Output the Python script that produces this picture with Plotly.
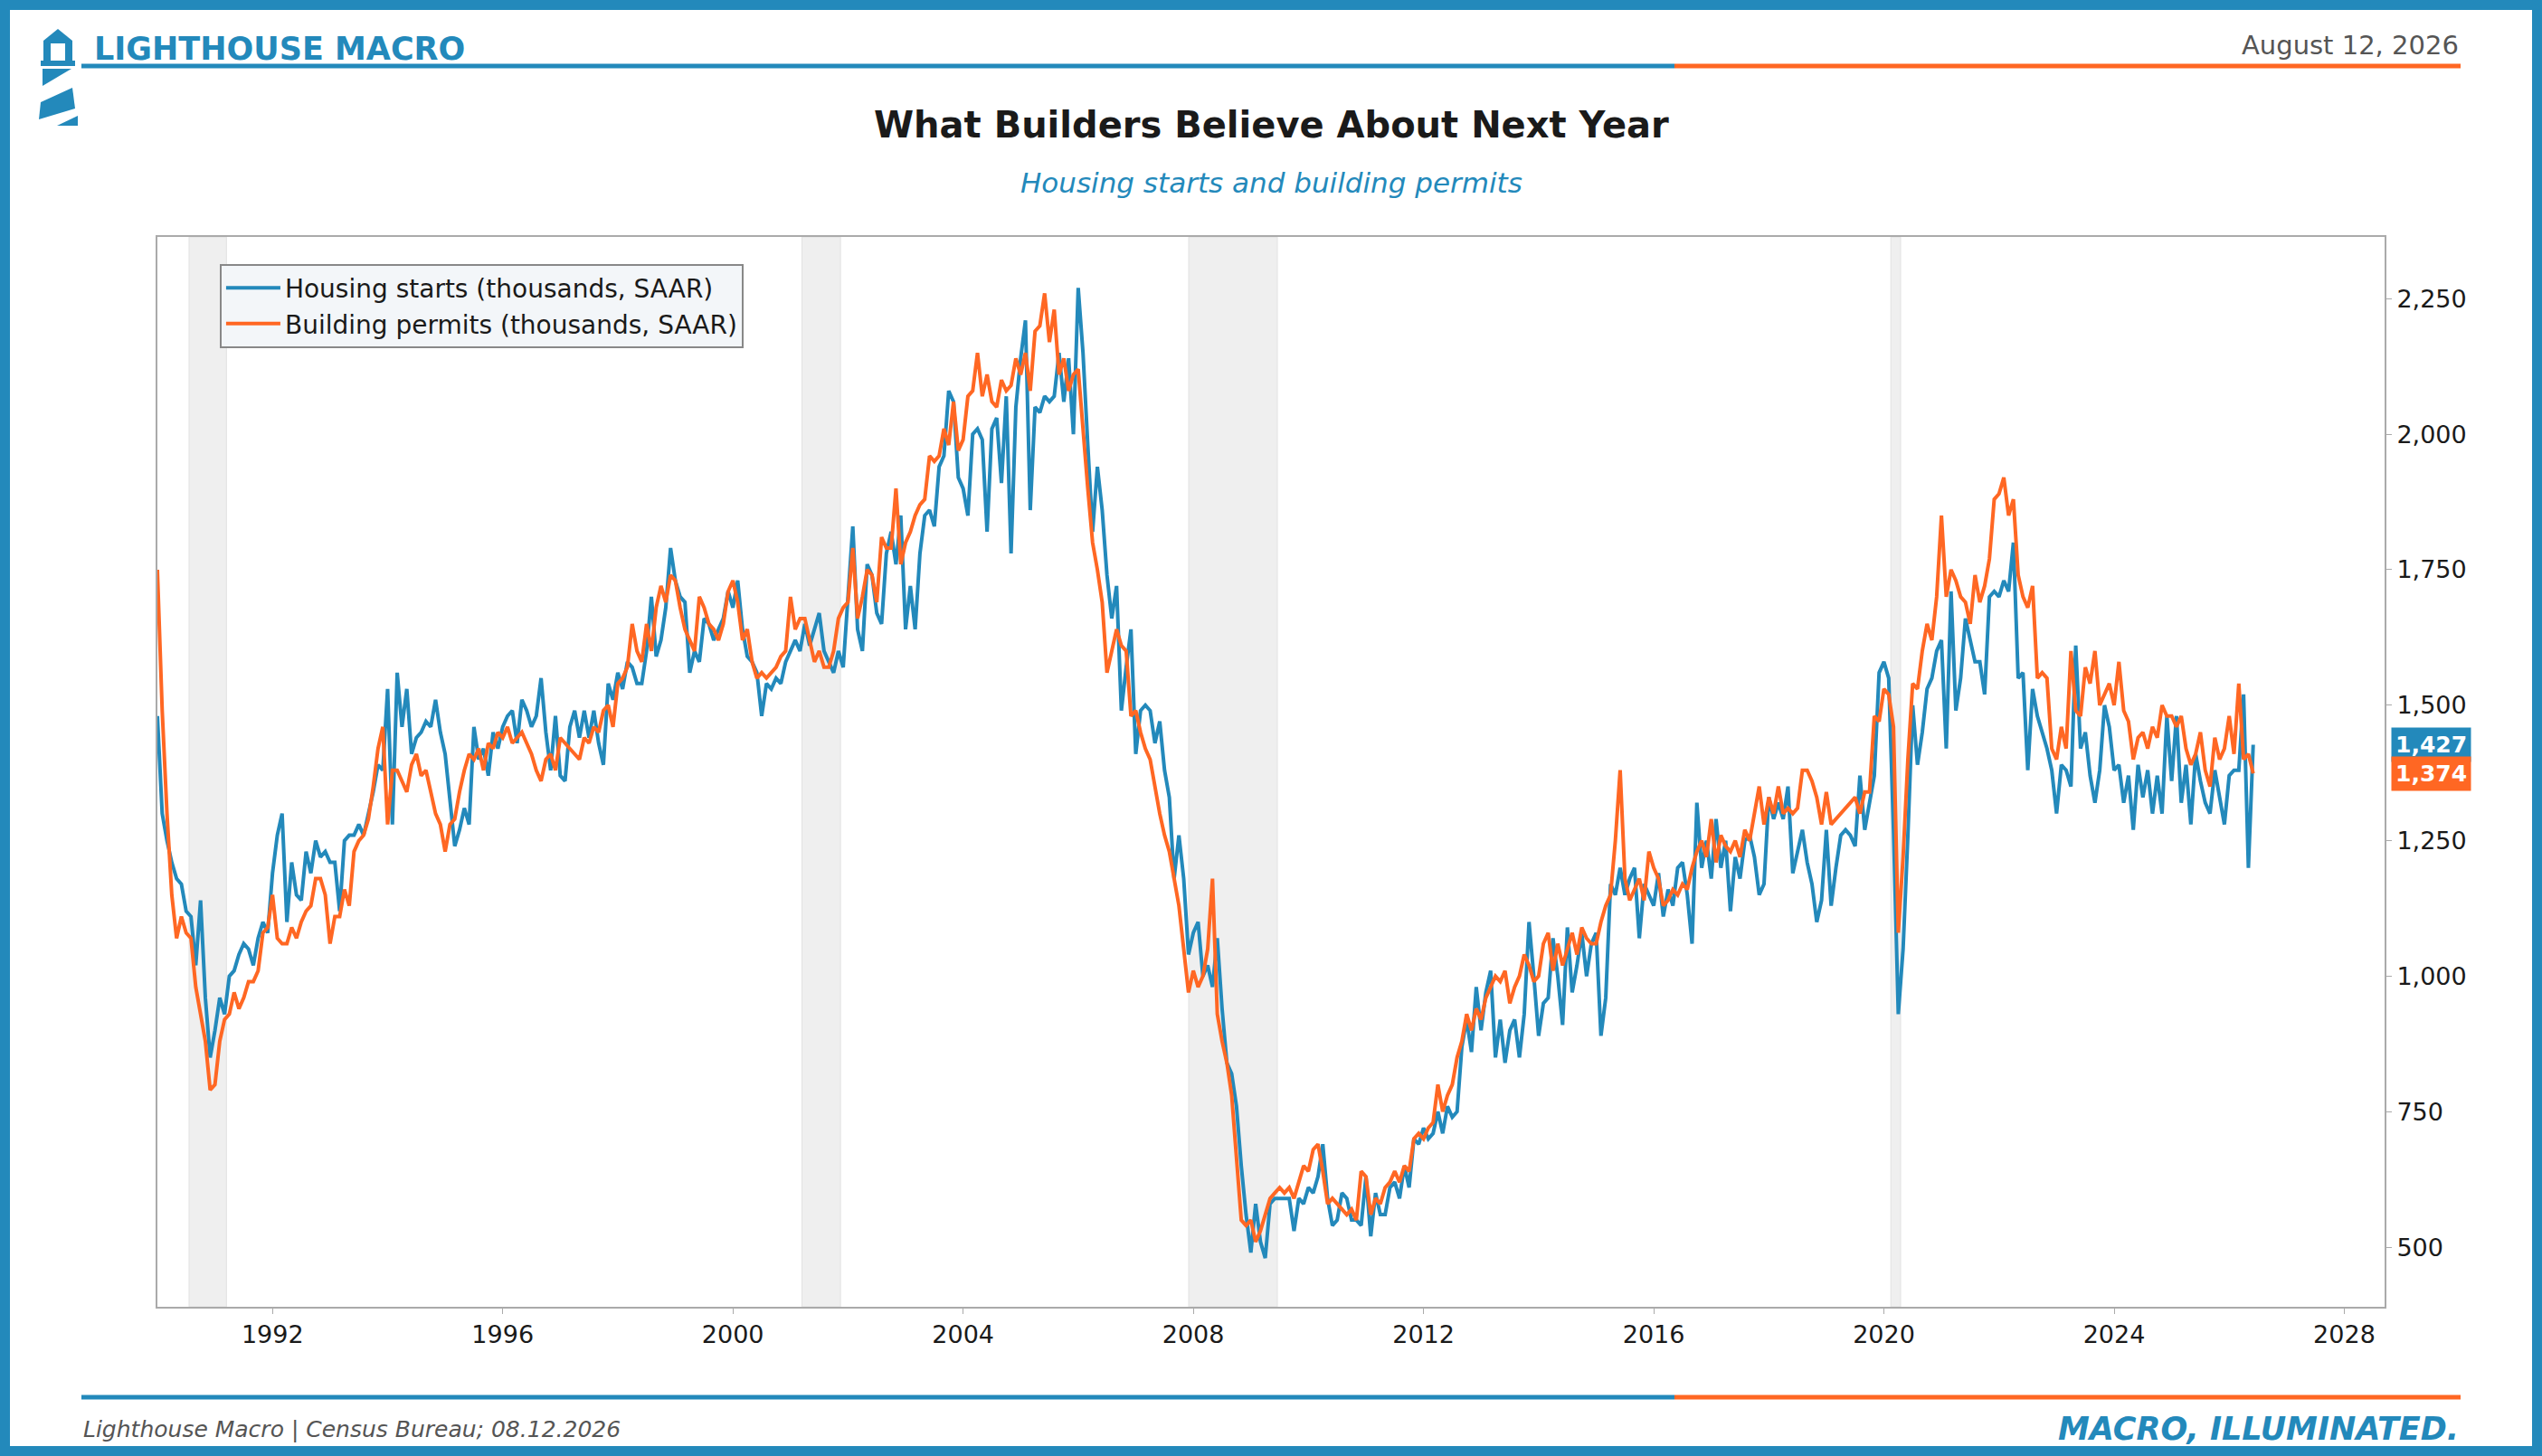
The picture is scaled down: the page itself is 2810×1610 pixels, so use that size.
import plotly.graph_objects as go

# monthly values, thousands SAAR, Jan 1990 onward
starts = [
    1480,1300,1250,1210,1180,1170,1120,1110,1020,1140,960,850,
    900,960,930,1000,1010,1040,1060,1050,1020,1070,1100,1080,
    1190,1260,1300,1100,1210,1150,1140,1230,1190,1250,1220,1230,
    1210,1210,1120,1250,1260,1260,1280,1260,1300,1340,1390,1380,
    1530,1280,1560,1460,1530,1410,1440,1450,1470,1460,1510,1450,
    1410,1330,1240,1270,1310,1280,1460,1400,1420,1370,1450,1420,
    1460,1480,1490,1430,1510,1490,1460,1480,1550,1450,1380,1480,
    1370,1360,1460,1490,1440,1490,1440,1490,1430,1390,1540,1510,
    1560,1530,1580,1570,1540,1540,1600,1700,1590,1620,1680,1790,
    1730,1700,1690,1560,1600,1580,1660,1650,1620,1640,1660,1710,
    1680,1730,1640,1590,1580,1560,1480,1540,1530,1550,1540,1580,
    1600,1620,1600,1650,1610,1640,1670,1600,1580,1560,1600,1570,
    1700,1830,1640,1600,1760,1740,1670,1650,1780,1820,1760,1850,
    1640,1720,1640,1780,1850,1860,1830,1940,1960,2080,2060,1920,
    1900,1850,2000,2010,1990,1820,2010,2030,1910,2070,1780,2050,
    2140,2210,1860,2050,2040,2070,2060,2070,2150,2060,2140,2000,
    2270,2150,1980,1820,1940,1860,1740,1660,1720,1490,1570,1640,
    1410,1490,1500,1490,1430,1470,1380,1330,1180,1260,1180,1040,
    1080,1100,1000,1020,980,1070,940,840,820,760,650,560,
    490,580,510,480,580,590,590,590,590,530,590,580,
    610,600,630,690,590,540,550,600,590,550,550,540,
    630,520,600,560,560,610,620,590,650,610,700,690,
    720,700,710,750,710,760,740,750,870,920,860,980,
    900,970,1010,850,920,840,900,920,850,930,1100,1000,
    890,950,960,1070,1000,910,1090,970,1020,1080,1000,1060,
    1080,890,960,1170,1150,1200,1150,1180,1200,1070,1170,1150,
    1130,1190,1110,1160,1130,1200,1210,1150,1060,1320,1200,1250,
    1180,1290,1200,1250,1120,1220,1180,1250,1260,1220,1150,1170,
    1330,1290,1320,1290,1350,1190,1230,1270,1210,1170,1100,1140,
    1270,1130,1200,1260,1270,1260,1240,1370,1270,1320,1370,1560,
    1580,1550,1270,930,1050,1260,1500,1390,1450,1530,1550,1600,
    1620,1420,1710,1490,1550,1660,1620,1580,1580,1520,1700,1710,
    1700,1730,1710,1800,1550,1560,1380,1530,1480,1450,1420,1380,
    1300,1390,1380,1350,1610,1420,1450,1370,1320,1380,1500,1460,
    1380,1390,1320,1370,1270,1390,1330,1380,1300,1370,1300,1480,
    1360,1480,1320,1390,1280,1410,1360,1320,1300,1380,1330,1280,
    1370,1380,1380,1520,1200,1427,
]
permits = [
    1750,1490,1300,1150,1070,1110,1080,1070,980,930,880,790,
    800,880,920,930,970,940,960,990,990,1010,1080,1090,
    1150,1070,1060,1060,1090,1070,1100,1120,1130,1180,1180,1150,
    1060,1110,1110,1160,1130,1230,1250,1260,1290,1350,1420,1460,
    1280,1380,1380,1360,1340,1390,1410,1370,1380,1340,1300,1280,
    1230,1280,1290,1340,1380,1410,1400,1420,1380,1430,1420,1450,
    1440,1460,1430,1440,1450,1430,1410,1380,1360,1400,1410,1380,
    1440,1430,1420,1410,1400,1440,1430,1460,1450,1490,1500,1460,
    1540,1550,1570,1650,1600,1580,1650,1600,1680,1720,1690,1740,
    1730,1680,1640,1620,1600,1700,1680,1650,1640,1620,1650,1710,
    1730,1690,1620,1640,1580,1550,1560,1550,1560,1570,1590,1600,
    1700,1640,1660,1660,1620,1580,1600,1570,1570,1600,1660,1680,
    1690,1790,1660,1700,1750,1740,1690,1810,1790,1790,1900,1760,
    1800,1820,1850,1870,1880,1960,1950,1960,2010,1980,2060,1970,
    1990,2070,2080,2150,2070,2110,2060,2050,2100,2080,2090,2140,
    2110,2150,2080,2190,2200,2260,2170,2230,2110,2140,2080,2110,
    2120,2000,1900,1800,1750,1690,1560,1600,1640,1610,1600,1480,
    1490,1450,1420,1400,1350,1300,1260,1230,1180,1130,1050,970,
    1010,980,1000,1050,1180,930,880,840,780,660,550,540,
    550,510,530,560,590,600,610,600,610,590,620,650,
    640,680,690,640,580,590,580,570,560,570,550,640,
    630,560,590,580,610,620,640,620,650,640,700,710,
    700,720,730,800,750,780,800,850,880,930,900,940,
    920,960,980,1000,990,1010,950,980,1000,1040,1020,990,
    1000,1060,1080,1010,1060,1020,1050,1080,1040,1090,1070,1060,
    1060,1100,1130,1150,1250,1380,1180,1140,1160,1180,1140,1230,
    1200,1180,1130,1140,1160,1150,1170,1160,1200,1230,1250,1220,
    1290,1210,1260,1240,1230,1250,1220,1270,1250,1300,1350,1280,
    1330,1300,1350,1300,1310,1300,1310,1380,1380,1360,1330,1280,
    1340,1280,1290,1300,1310,1320,1330,1300,1340,1340,1480,1470,
    1530,1520,1460,1080,1220,1400,1540,1530,1600,1650,1620,1700,
    1850,1700,1750,1730,1700,1690,1650,1740,1690,1720,1770,1880,
    1890,1920,1850,1880,1740,1700,1680,1720,1550,1560,1550,1420,
    1400,1460,1420,1600,1490,1480,1570,1540,1600,1500,1520,1540,
    1500,1580,1490,1470,1400,1440,1450,1420,1460,1440,1500,1480,
    1480,1460,1480,1420,1390,1410,1450,1380,1350,1440,1400,1420,
    1480,1410,1540,1400,1410,1374,
]
recessions = [(1990.55, 1991.2), (2001.2, 2001.87), (2007.92, 2009.46), (2020.12, 2020.29)]
year_ticks = list(range(1992, 2029, 4))

BLUE = "#2389BB"
ORANGE = "#FF6723"
W, H = 2810, 1610
ML, MR, MT, MB = 174, 174, 262, 165
PW, PH = W - ML - MR, H - MT - MB

def px(x):
    return (x - ML) / PW

def py(y):
    return 1 - (y - MT) / PH

t = [1990 + i / 12 for i in range(len(starts))]

fig = go.Figure()
fig.add_trace(go.Scatter(x=t, y=starts, mode="lines", name="Housing starts (thousands, SAAR)",
                         line=dict(color=BLUE, width=4)))
fig.add_trace(go.Scatter(x=t, y=permits, mode="lines", name="Building permits (thousands, SAAR)",
                         line=dict(color=ORANGE, width=4)))

shapes = []
for a, b in recessions:
    shapes.append(dict(type="rect", xref="x", yref="paper", x0=a, x1=b, y0=0, y1=1,
                       fillcolor="#efefef", line=dict(color="#e2e2e2", width=1), layer="below"))

# outer border
shapes.append(dict(type="rect", xref="paper", yref="paper", x0=px(0), x1=px(W), y0=py(H), y1=py(0),
                   line=dict(color=BLUE, width=22)))
# header / footer rules
for yy in (73, 1545):
    shapes.append(dict(type="line", xref="paper", yref="paper", x0=px(90), x1=px(1851), y0=py(yy), y1=py(yy),
                       line=dict(color=BLUE, width=5)))
    shapes.append(dict(type="line", xref="paper", yref="paper", x0=px(1851), x1=px(2720), y0=py(yy), y1=py(yy),
                       line=dict(color=ORANGE, width=5)))

# lighthouse icon
def poly(pts):
    d = "M " + " L ".join(f"{px(a)},{py(b)}" for a, b in pts) + " Z"
    return dict(type="path", xref="paper", yref="paper", path=d, fillcolor=BLUE, line=dict(width=0))

shapes += [
    poly([(48, 45), (64, 32), (80, 45)]),
    poly([(48, 45), (80, 45), (80, 48), (48, 48)]),
    poly([(48, 48), (56, 48), (56, 67), (48, 67)]),
    poly([(72, 48), (80, 48), (80, 67), (72, 67)]),
    poly([(45, 67), (83, 67), (83, 73), (45, 73)]),
    poly([(47, 76), (79, 76), (47, 95)]),
    poly([(80, 97), (83, 120), (43, 132), (45, 113)]),
    poly([(86, 128), (86, 139), (63, 139)]),
]

ann = [
    dict(text="<b>LIGHTHOUSE MACRO</b>", x=px(102), y=py(54), xanchor="left", yanchor="middle",
         font=dict(size=35, color=BLUE)),
    dict(text="August 12, 2026", x=px(2720), y=py(50), xanchor="right", yanchor="middle",
         font=dict(size=29, color="#555555")),
    dict(text="<b>What Builders Believe About Next Year</b>", x=px(1405), y=py(138), xanchor="center",
         yanchor="middle", font=dict(size=40, color="#1a1a1a")),
    dict(text="<i>Housing starts and building permits</i>", x=px(1405), y=py(202), xanchor="center",
         yanchor="middle", font=dict(size=31, color=BLUE)),
    dict(text="<i>Lighthouse Macro | Census Bureau; 08.12.2026</i>", x=px(90), y=py(1580), xanchor="left",
         yanchor="middle", font=dict(size=25, color="#555555")),
    dict(text="<b><i>MACRO, ILLUMINATED.</i></b>", x=px(2720), y=py(1580), xanchor="right",
         yanchor="middle", font=dict(size=35, color=BLUE)),
]
for val, col in ((starts[-1], BLUE), (permits[-1], ORANGE)):
    ann.append(dict(text=f"<b>{val:,}</b>", xref="paper", yref="y", x=1.003, y=val, xanchor="left",
                    yanchor="middle", showarrow=False, bgcolor=col, borderpad=4,
                    font=dict(size=25, color="white")))
for a in ann:
    a.setdefault("xref", "paper")
    a.setdefault("yref", "paper")
    a["showarrow"] = False

fig.update_layout(
    width=W, height=H,
    margin=dict(l=ML, r=MR, t=MT, b=MB),
    paper_bgcolor="white", plot_bgcolor="white",
    font=dict(family="DejaVu Sans", color="#1a1a1a"),
    shapes=shapes, annotations=ann,
    showlegend=True,
    legend=dict(x=0.028, y=0.975, xanchor="left", yanchor="top", bgcolor="#f3f6f9",
                bordercolor="#888888", borderwidth=2, font=dict(size=28), itemwidth=60,
                tracegroupgap=14),
    xaxis=dict(range=[1990.0, 2028.7], tickvals=year_ticks, showgrid=False, zeroline=False,
               showline=True, linecolor="#aaaaaa", linewidth=2, mirror=True,
               ticks="outside", ticklen=6, tickcolor="#aaaaaa", tickfont=dict(size=27)),
    yaxis=dict(range=[390, 2364], side="right", tickvals=list(range(500, 2251, 250)),
               tickformat=",d", showgrid=False, zeroline=False,
               showline=True, linecolor="#aaaaaa", linewidth=2, mirror=True,
               ticks="outside", ticklen=6, tickcolor="#aaaaaa", tickfont=dict(size=27)),
)

fig.write_html("out.html", config={"displayModeBar": False},
               post_script="document.body.style.margin='0';document.body.style.overflow='hidden';")
